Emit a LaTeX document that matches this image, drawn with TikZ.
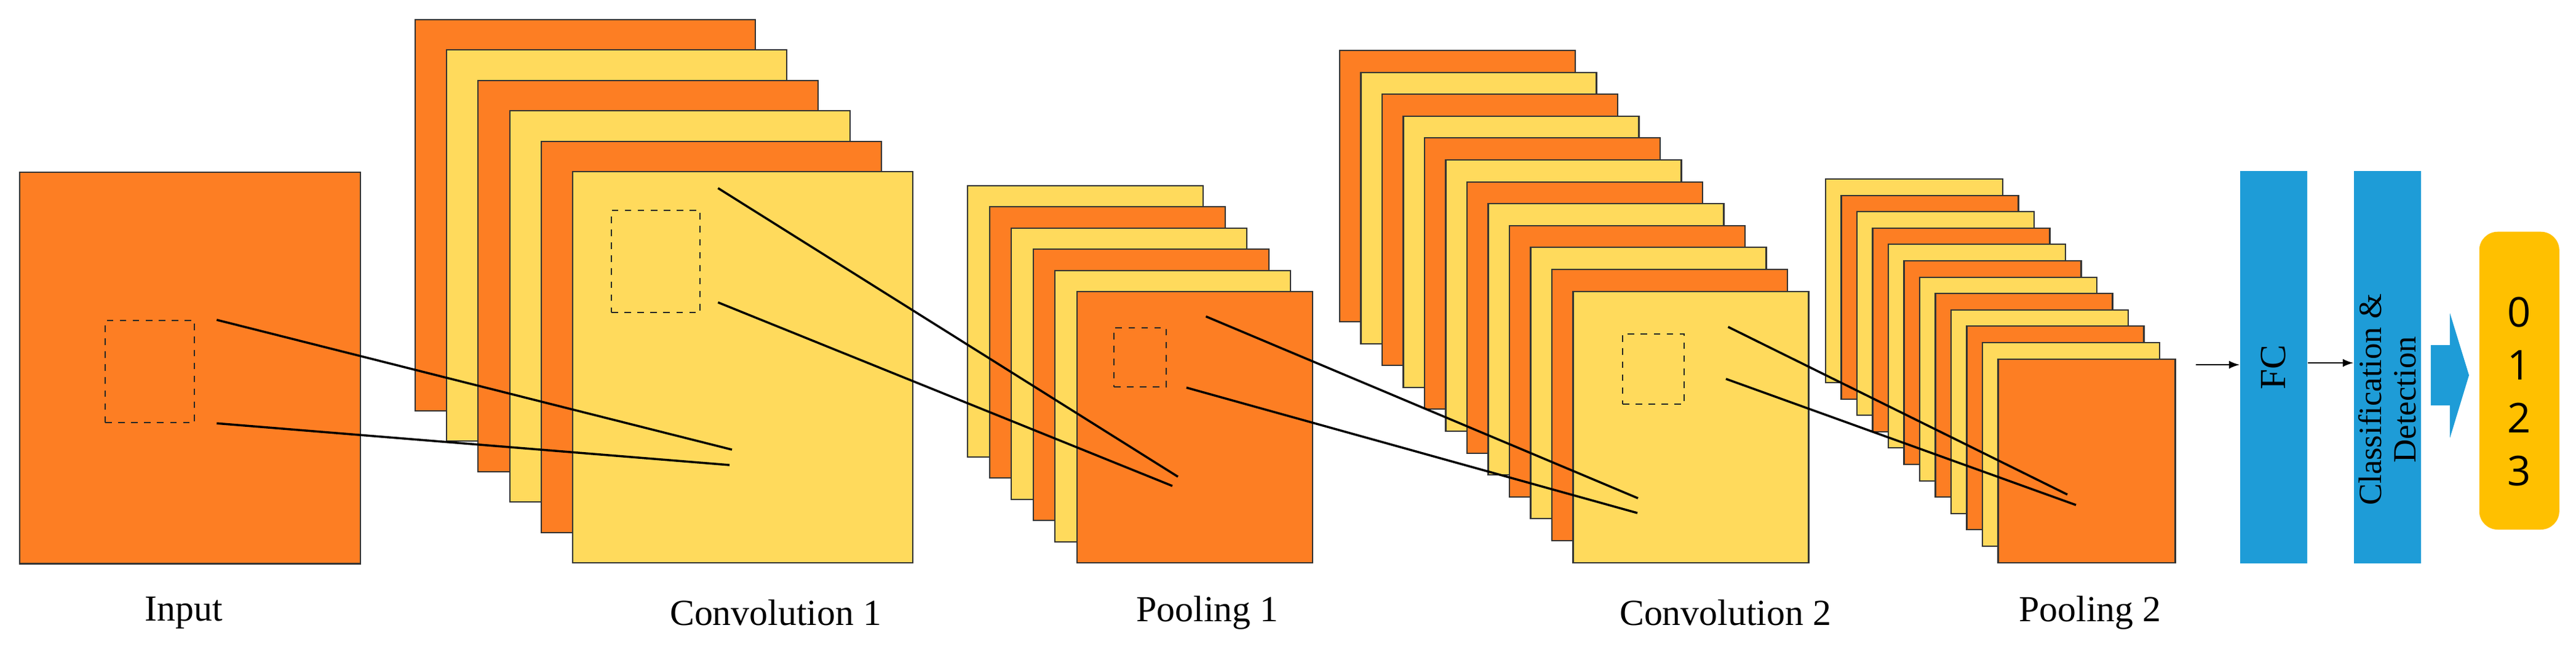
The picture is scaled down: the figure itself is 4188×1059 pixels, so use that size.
\documentclass[tikz,border=0pt]{standalone}
\usepackage{fontspec}
\setmainfont{Liberation Serif}
\newfontfamily\digitfont{Open Sans}
\usepackage{tikz}
\usetikzlibrary{positioning}

\definecolor{fmorange}{HTML}{FD7E23}
\definecolor{fmyellow}{HTML}{FFDA5C}
\definecolor{fcblue}{HTML}{1E9CD7}
\definecolor{outgold}{HTML}{FFC000}

\begin{document}
\begin{tikzpicture}[
    x=0.01cm, y=-0.01cm,
    map/.style={draw=black!80, line width=0.6pt},
    window/.style={draw=black!85, dashed, line width=0.6pt, minimum width=1.45cm, minimum height=1.66cm, anchor=north west, inner sep=0pt},
    link/.style={draw=black, line width=1pt},
    caption/.style={font=\fontsize{17}{20}\selectfont},
    bar/.style={fill=fcblue, minimum width=1.09cm, minimum height=6.38cm, anchor=north west, inner sep=0pt}
]
\useasboundingbox (0,0) rectangle (4188,1059);

% Input
\node[map, fill=fmorange, minimum width=5.54cm, minimum height=6.36cm, anchor=north west, inner sep=0pt] (input) at (31,279) {};
\node[window] (inwin) at (170,520) {};

% Convolution 1
\foreach \i in {0,...,5}{
    \ifodd\i \def\c{fmyellow}\else\def\c{fmorange}\fi
    \draw[map, fill=\c] (675+51.2*\i, 32+49.4*\i) rectangle ++(553,636);
}
\node[window, minimum width=1.44cm] (c1win) at (993,341) {};

% Pooling 1
\foreach \i in {0,...,5}{
    \ifodd\i \def\c{fmorange}\else\def\c{fmyellow}\fi
    \draw[map, fill=\c] (1573+35.6*\i, 302+34.4*\i) rectangle ++(383,441);
}
\node[window, minimum width=0.85cm, minimum height=0.96cm] (p1win) at (1810,532) {};

% Convolution 2
\foreach \i in {0,...,11}{
    \ifodd\i \def\c{fmyellow}\else\def\c{fmorange}\fi
    \draw[map, fill=\c] (2178+34.5*\i, 82+35.6*\i) rectangle ++(383,441);
}
\node[window, minimum width=1.0cm, minimum height=1.14cm] (c2win) at (2637,542) {};

% Pooling 2
\foreach \i in {0,...,11}{
    \ifodd\i \def\c{fmorange}\else\def\c{fmyellow}\fi
    \draw[map, fill=\c] (2968+25.5*\i, 291+26.6*\i) rectangle ++(288,331);
}

% End points of the links
\coordinate (c1a) at (1190,731);
\coordinate (c1b) at (1186,756);
\coordinate (p1a) at (1915,775);
\coordinate (p1b) at (1906,790);
\coordinate (c2a) at (2663,810);
\coordinate (c2b) at (2662,834);
\coordinate (p2a) at (3361,804);
\coordinate (p2b) at (3375,821);
\coordinate (p2out) at (3570,593);

\draw[link] ([xshift=10]inwin.north east) -- (c1a);
\draw[link] ([xshift=10]inwin.south east) -- (c1b);
\draw[link] ([xshift=8,yshift=10]c1win.north east) -- (p1a);
\draw[link] ([xshift=8,yshift=5]c1win.south east) -- (p1b);
\draw[link] ([xshift=18,yshift=5]p1win.north east) -- (c2a);
\draw[link] ([xshift=9]p1win.south east) -- (c2b);
\draw[link] ([xshift=20,yshift=3]c2win.north east) -- (p2a);
\draw[link] ([xshift=19,yshift=12]c2win.south east) -- (p2b);

% Dense part
\node[bar] (fc) at (3641,277) {};
\node[rotate=90, font=\fontsize{17}{20}\selectfont] (fctext) at (fc.center) {FC};
\node[bar] (cd) at (3826,277) {};
\node[rotate=90, align=center, font=\fontsize{15}{16}\selectfont] (cdtext) at ([yshift=-15]cd.center) {Classification \&\\Detection};

\draw[-latex, line width=0.7pt] (p2out) -- (fc.west |- p2out);
\draw[-latex, line width=0.7pt] (fc.east |- 0,590) -- (cd.west |- 0,590);

% Output
\node[fill=outgold, rounded corners=0.3cm, minimum width=1.3cm, minimum height=4.84cm, anchor=north west, inner sep=0pt] (out) at (4030,376) {};
\node[align=center, font=\digitfont\fontsize{19}{24.5}\selectfont] (digits) at ([yshift=-5]out.center) {0\\1\\2\\3};
\fill[fcblue] (3952,561) -- (3983,561) -- (3983,509) -- (4014,610) -- (3983,712) -- (3983,659) -- (3952,659) -- cycle;

% Captions
\node[caption] (lin) at (299,996) {Input};
\node[caption] (lc1) at (1261,996) {Convolution 1};
\node[caption] (lp1) at (1963,996) {Pooling 1};
\node[caption] (lc2) at (2805,996) {Convolution 2};
\node[caption] (lp2) at (3398,996) {Pooling 2};

\end{tikzpicture}
\end{document}
